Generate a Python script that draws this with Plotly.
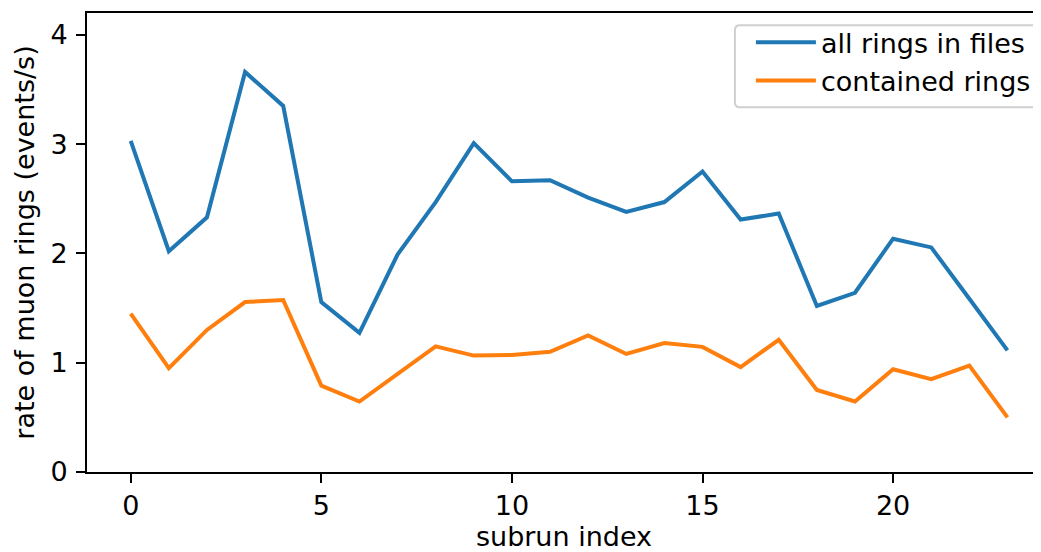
import plotly.graph_objects as go

subrun = list(range(24))
all_rings = [3.03, 2.02, 2.33, 3.66, 3.35, 1.555, 1.274, 1.99, 2.47, 3.01, 2.66, 2.67,
             2.51, 2.38, 2.47, 2.75, 2.31, 2.365, 1.52, 1.64, 2.135, 2.055, 1.585, 1.113]
contained = [1.45, 0.95, 1.30, 1.555, 1.574, 0.79, 0.645, 0.897, 1.15, 1.065, 1.07, 1.10,
             1.25, 1.08, 1.18, 1.145, 0.96, 1.21, 0.75, 0.645, 0.94, 0.85, 0.974, 0.50]
y_ticks = [0, 1, 2, 3, 4]
x_ticks = [0, 5, 10, 15, 20]

FONT = "DejaVu Sans"
FS = 27

fig = go.Figure()
fig.add_trace(go.Scatter(x=subrun, y=all_rings, mode="lines", name="all rings in files",
                         line=dict(color="#1f77b4", width=4)))
fig.add_trace(go.Scatter(x=subrun, y=contained, mode="lines", name="contained rings",
                         line=dict(color="#ff7f0e", width=4)))

# page has an 8px body margin; figure coords = page coords - 8
OFF = 8
W, H = 1041 - OFF, 552 - OFF
PL, PT, PB = 87.3, 12.7, 472.0          # plot area in page pixels
L, R, T = PL - OFF, 0, PT - OFF
B = H - (PB - OFF)
pw = W - L - R
ph = H - T - B


def px(xp):
    return (xp - PL) / pw


def py(yp):
    return (PB - yp) / ph


# legend frame (rounded, light grey) in page pixels
fx0, fx1, fy0, fy1 = 735, 1037, 25, 107
rx, ry = 5 / pw, 5 / ph
X0, X1, Ytop, Ybot = px(fx0), px(fx1), py(fy0), py(fy1)
frame_path = (
    f"M {X0+rx},{Ybot} L {X1-rx},{Ybot} Q {X1},{Ybot} {X1},{Ybot+ry} "
    f"L {X1},{Ytop-ry} Q {X1},{Ytop} {X1-rx},{Ytop} "
    f"L {X0+rx},{Ytop} Q {X0},{Ytop} {X0},{Ytop-ry} "
    f"L {X0},{Ybot+ry} Q {X0},{Ybot} {X0+rx},{Ybot} Z"
)

fig.update_layout(
    width=W, height=H,
    margin=dict(l=L, r=R, t=T, b=B, pad=0),
    paper_bgcolor="white", plot_bgcolor="white",
    font=dict(family=FONT, size=FS, color="black"),
    showlegend=True,
    legend=dict(
        x=px(751), y=py(18), xanchor="left", yanchor="top",
        bgcolor="rgba(0,0,0,0)", borderwidth=0,
        font=dict(family=FONT, size=FS), itemwidth=60, tracegroupgap=0,
    ),
    shapes=[dict(type="path", xref="paper", yref="paper", path=frame_path,
                 line=dict(color="#d0d0d0", width=2),
                 fillcolor="rgba(255,255,255,0.8)", layer="above")],
    xaxis=dict(
        range=[-1.147, 23.88], tickvals=x_ticks, ticktext=[str(v) for v in x_ticks],
        showgrid=False, zeroline=False, showline=True, linecolor="black", linewidth=2,
        mirror=True, ticks="outside", ticklen=9, tickwidth=2, tickcolor="black",
        title=dict(text="subrun index", font=dict(family=FONT, size=FS), standoff=6),
        tickfont=dict(family=FONT, size=FS),
    ),
    yaxis=dict(
        range=[0, 4.2], tickvals=y_ticks, ticktext=[str(v) for v in y_ticks],
        showgrid=False, zeroline=False, showline=True, linecolor="black", linewidth=2,
        mirror=False, ticks="outside", ticklen=9, tickwidth=2, tickcolor="black",
        ticklabelstandoff=3,
        title=dict(text="rate of muon rings (events/s)", font=dict(family=FONT, size=FS), standoff=8),
        tickfont=dict(family=FONT, size=FS),
    ),
)

fig.write_html("out.html")
